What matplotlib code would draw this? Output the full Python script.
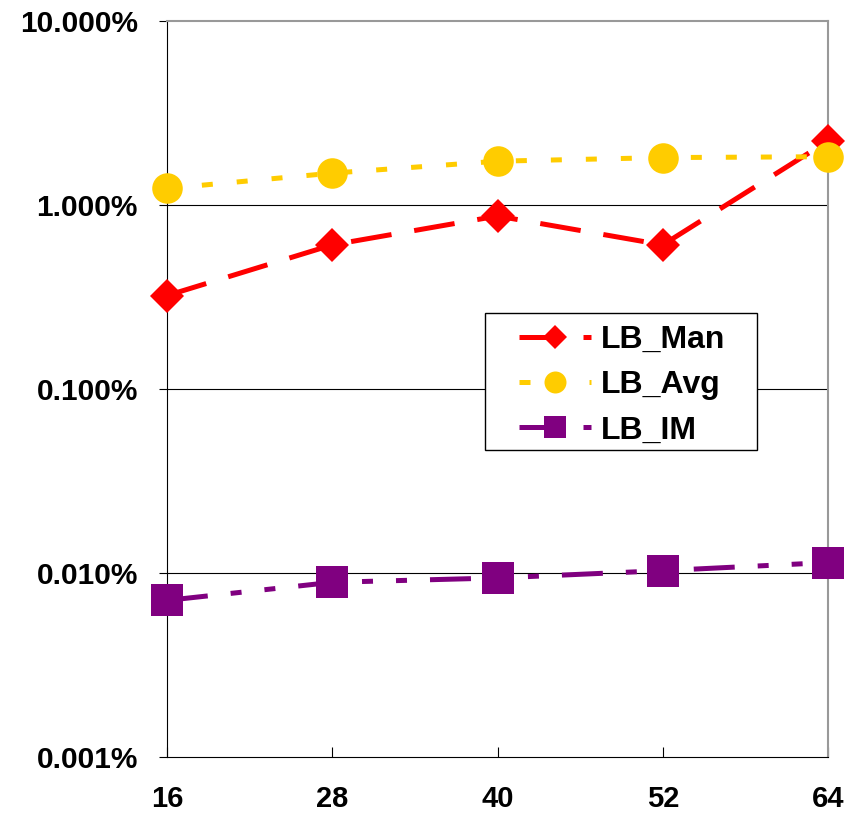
import matplotlib
matplotlib.use("Agg")
import matplotlib.pyplot as plt
from matplotlib.patches import Rectangle
from matplotlib.ticker import FixedLocator, FuncFormatter, NullLocator

# chart values (percent)
sizes = ["16", "28", "40", "52", "64"]
lb_man = [0.322, 0.607, 0.871, 0.607, 2.23]
lb_avg = [1.23, 1.49, 1.73, 1.81, 1.83]
lb_im = [0.0071, 0.0089, 0.0094, 0.0103, 0.0114]
y_ticks = [0.001, 0.01, 0.1, 1, 10]

plt.rcParams['font.family'] = ['Liberation Sans', 'DejaVu Sans']
plt.rcParams['font.weight'] = 'bold'

W, H = 847, 815
fig = plt.figure(figsize=(W / 100, H / 100), dpi=100)
ax = fig.add_axes([167 / W, 58 / H, 661 / W, 736 / H])

x = list(range(len(sizes)))
lw = 3.6

ax.plot(x, lb_man, color="#FF0000", lw=lw, dashes=(8.2, 4.6),
        marker="D", markersize=17, markeredgewidth=0, label="LB_Man",
        clip_on=False, zorder=3)
ax.plot(x, lb_avg, color="#FFCC00", lw=lw, dashes=(2.2, 4.8),
        marker="o", markersize=22, markeredgewidth=0, label="LB_Avg",
        clip_on=False, zorder=4)
ax.plot(x, lb_im, color="#800080", lw=lw, dashes=(8.2, 4.6, 2.2, 4.6, 2.2, 4.6),
        marker="s", markersize=22.5, markeredgewidth=0, label="LB_IM",
        clip_on=False, zorder=5)

ax.set_yscale("log")
ax.set_ylim(0.001, 10)
ax.set_xlim(0, len(sizes) - 1)
ax.yaxis.set_major_locator(FixedLocator(y_ticks))
ax.yaxis.set_minor_locator(NullLocator())
ax.yaxis.set_major_formatter(FuncFormatter(lambda v, p: f"{v:.3f}%"))
ax.set_xticks(x)
ax.set_xticklabels(sizes)

for v in y_ticks[1:-1]:
    ax.axhline(v, color="black", lw=0.8, zorder=1)

ax.tick_params(axis="y", direction="out", length=6, width=0.8,
               labelsize=21.5, pad=15)
ax.tick_params(axis="x", direction="in", length=7, width=0.8,
               labelsize=21, pad=20)

for side in ["top", "right"]:
    ax.spines[side].set_color("#999999")
    ax.spines[side].set_linewidth(1.5)
for side in ["left", "bottom"]:
    ax.spines[side].set_color("black")
    ax.spines[side].set_linewidth(0.8)

# legend entries without frame, frame drawn as a separate box
leg = ax.legend(loc="upper left",
                bbox_to_anchor=((519 - 167) / 661, (757 - 325) / 736),
                borderaxespad=0, borderpad=0, fontsize=23, frameon=False,
                markerscale=0.72, handlelength=2.25, handletextpad=0.3,
                labelspacing=0.48)
box = Rectangle((485 / W, 1 - 450 / H), (757 - 485) / W, (450 - 313) / H,
                transform=fig.transFigure, facecolor="white",
                edgecolor="black", lw=1.0, zorder=6)
ax.add_patch(box)
box.set_clip_on(False)
leg.set_zorder(7)

fig.savefig("out.png", dpi=100)
